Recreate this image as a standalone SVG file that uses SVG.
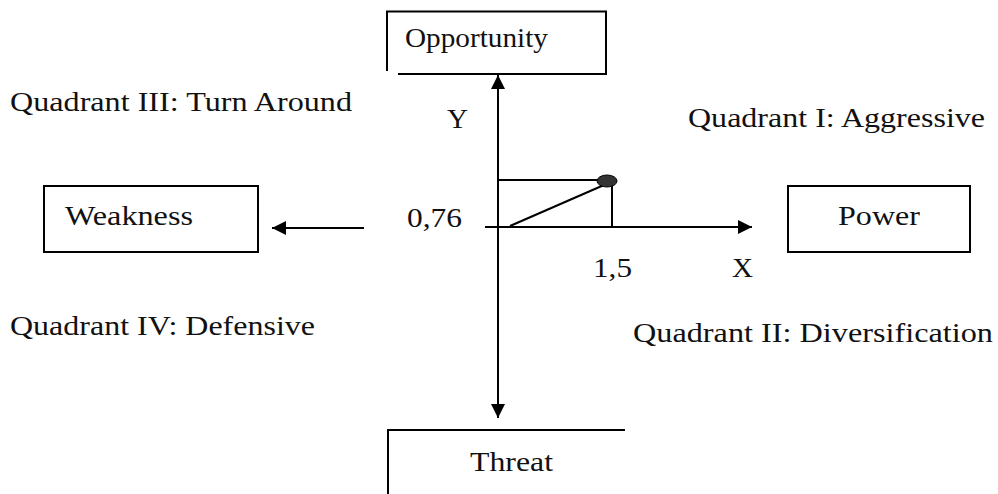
<svg xmlns="http://www.w3.org/2000/svg" width="998" height="494" viewBox="0 0 998 494">
<defs>
<marker id="ah" viewBox="0 0 10 10" refX="10" refY="5" markerWidth="14" markerHeight="14" markerUnits="userSpaceOnUse" orient="auto">
<path d="M0,0 L10,5 L0,10 Z" fill="#000"/>
</marker>
<style>
.ln{stroke:#000;stroke-width:2;fill:none}
text{font-family:'Liberation Serif','DejaVu Serif',serif;font-size:27px;fill:#111}
</style>
</defs>
<rect width="998" height="494" fill="#fff"/>
<g id="opportunity">
<path class="ln" d="M387,71 V11.5 H606 V74 H398"/>
<text x="405" y="47" textLength="143" lengthAdjust="spacingAndGlyphs">Opportunity</text>
</g>
<g id="threat">
<path class="ln" d="M388,494 V430 H625"/>
<text x="470" y="471" textLength="83" lengthAdjust="spacingAndGlyphs">Threat</text>
</g>
<g id="weakness">
<rect class="ln" x="44" y="186" width="214" height="66"/>
<text x="65" y="225" textLength="128" lengthAdjust="spacingAndGlyphs">Weakness</text>
</g>
<g id="power">
<rect class="ln" x="788" y="186" width="182" height="66"/>
<text x="838" y="225" textLength="82" lengthAdjust="spacingAndGlyphs">Power</text>
</g>
<g id="labels">
<text x="10" y="111" textLength="342" lengthAdjust="spacingAndGlyphs">Quadrant III: Turn Around</text>
<text x="688" y="127" textLength="297" lengthAdjust="spacingAndGlyphs">Quadrant I: Aggressive</text>
<text x="10" y="335" textLength="305" lengthAdjust="spacingAndGlyphs">Quadrant IV: Defensive</text>
<text x="633" y="342" textLength="360" lengthAdjust="spacingAndGlyphs">Quadrant II: Diversification</text>
<text x="447" y="128" textLength="21" lengthAdjust="spacingAndGlyphs">Y</text>
<text x="732" y="277" textLength="21" lengthAdjust="spacingAndGlyphs">X</text>
<text x="407" y="227" textLength="55" lengthAdjust="spacingAndGlyphs">0,76</text>
<text x="593" y="277" textLength="39" lengthAdjust="spacingAndGlyphs">1,5</text>
</g>
<g id="connectors">
<line class="ln" x1="498" y1="140" x2="498" y2="75" marker-end="url(#ah)"/>
<line class="ln" x1="498" y1="140" x2="498" y2="418" marker-end="url(#ah)"/>
<line class="ln" x1="485" y1="227" x2="752" y2="227" marker-end="url(#ah)"/>
<line class="ln" x1="364" y1="228" x2="272" y2="228" marker-end="url(#ah)"/>
<line class="ln" x1="498" y1="180" x2="604" y2="180"/>
<line class="ln" x1="612" y1="182" x2="612" y2="227"/>
<line class="ln" x1="510" y1="226" x2="604" y2="185"/>
</g>
<g id="point">
<ellipse cx="607" cy="181" rx="10" ry="6" fill="#333" stroke="#000" stroke-width="1"/>
</g>
</svg>
